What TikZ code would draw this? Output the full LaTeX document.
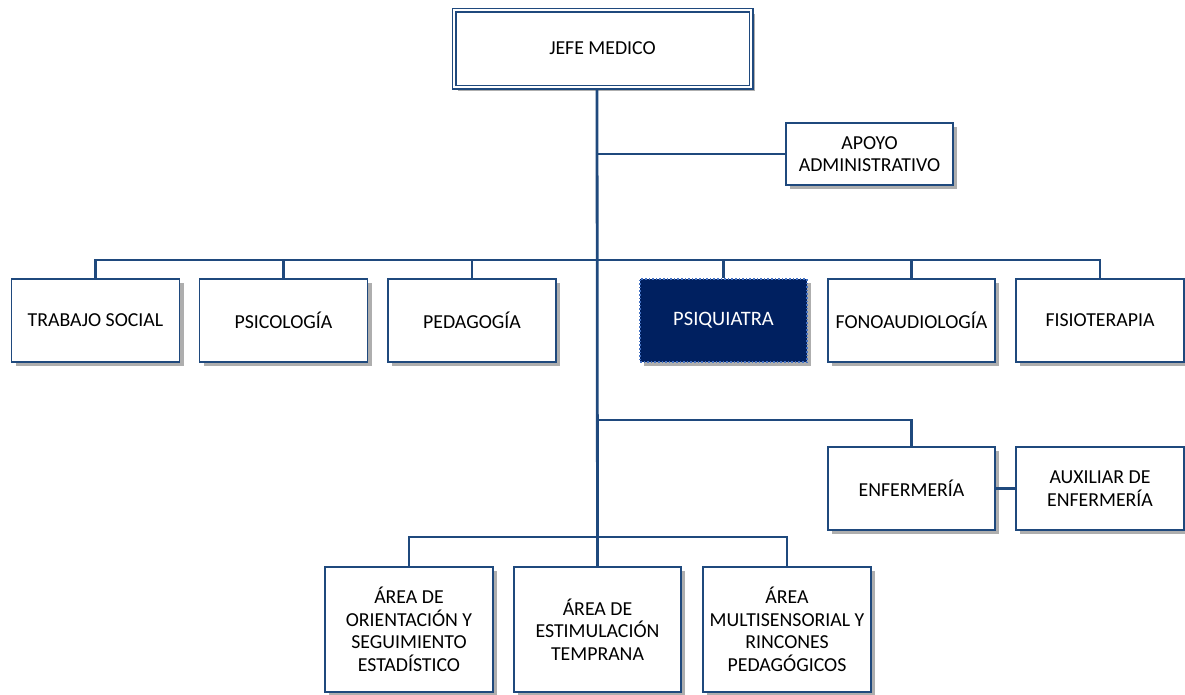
\documentclass[tikz,border=0pt]{standalone}
\usepackage{fontspec}
\setmainfont{Carlito}
\usetikzlibrary{shadows}
\definecolor{lineblue}{RGB}{31,73,125}
\definecolor{navy}{RGB}{0,32,96}
\definecolor{dotblue}{RGB}{68,114,196}
\begin{document}
\begin{tikzpicture}[x=1pt,y=-1pt,
  conn/.style={draw=lineblue,line width=2.8pt},
  box/.style={draw=lineblue,line width=1.6pt,fill=white,align=center,
    minimum width=168pt,minimum height=83pt,inner sep=2pt,
    font=\fontsize{19.8}{22.5}\selectfont,
    drop shadow={shadow xshift=4pt,shadow yshift=-4pt,fill=black!45,opacity=0.7}},
  tallbox/.style={box,minimum height=125pt},
  topbox/.style={box,minimum width=297pt,minimum height=77pt,double=white,double distance=2.2pt,line width=1.4pt},
  darkbox/.style={box,fill=navy,draw=dotblue,dotted,line width=1.6pt,text=white,font=\fontsize{20.5}{23}\selectfont}
]
\useasboundingbox (0,0) rectangle (1185,694);
% nodes
\node[topbox] (jefe) at (602.5,48.5) {JEFE MEDICO};
\node[box,minimum width=167pt,minimum height=62pt] (apoyo) at (869.5,154) {APOYO\\ADMINISTRATIVO};
\node[box] (ts) at (95.5,320.5) {TRABAJO SOCIAL};
\node[box] (psi) at (283.5,320.5) {PSICOLOGÍA};
\node[box] (ped) at (472,320.5) {PEDAGOGÍA};
\node[darkbox,minimum width=167pt] (pq) at (723.5,320.5) {PSIQUIATRA};
\node[box,minimum width=167pt] (fono) at (911.5,320.5) {FONOAUDIOLOGÍA};
\node[box] (fis) at (1100,320.5) {FISIOTERAPIA};
\node[box,minimum width=167pt] (enf) at (911.5,488.5) {ENFERMERÍA};
\node[box] (aux) at (1100,488.5) {AUXILIAR DE\\ENFERMERÍA};
\node[tallbox] (ori) at (409,629.5) {ÁREA DE\\ORIENTACIÓN Y\\SEGUIMIENTO\\ESTADÍSTICO};
\node[tallbox,minimum width=167pt] (est) at (597.5,629.5) {ÁREA DE\\ESTIMULACIÓN\\TEMPRANA};
\node[tallbox] (mul) at (787,629.5) {ÁREA\\MULTISENSORIAL Y\\RINCONES\\PEDAGÓGICOS};
% junction coordinates on the trunk
\coordinate (top) at (597,89);
\coordinate (a) at (597,154);
\coordinate (r) at (597,260);
\coordinate (e) at (597,420);
\coordinate (b) at (597,537);
% connectors
\draw[conn] (top) -- (est.north);
\draw[conn] (a) -- (apoyo.west);
\draw[conn] (ts.north) |- (r) -| (fis.north);
\draw[conn] (psi.north) -- (psi.north |- r);
\draw[conn] (ped.north) -- (ped.north |- r);
\draw[conn] (pq.north) -- (pq.north |- r);
\draw[conn] (fono.north) -- (fono.north |- r);
\draw[conn] (e) -| (enf.north);
\draw[conn] (enf.east) -- (aux.west);
\draw[conn] (ori.north) |- (b) -| (mul.north);
\end{tikzpicture}
\end{document}
